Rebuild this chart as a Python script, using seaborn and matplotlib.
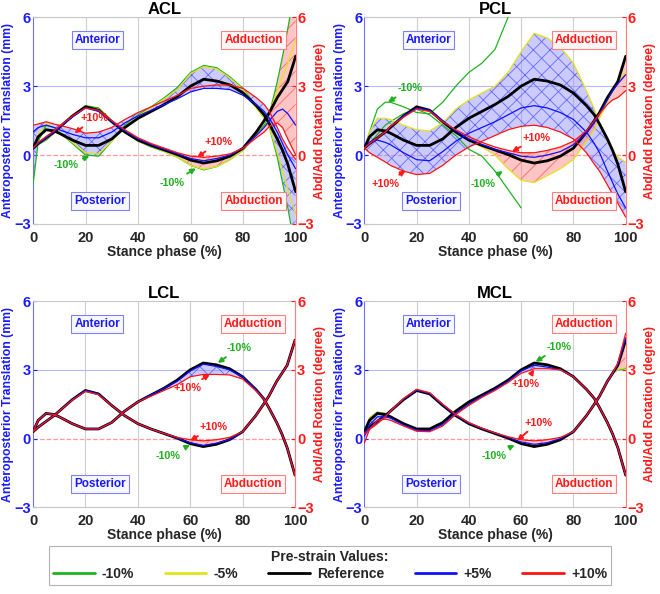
import numpy as np
import matplotlib
matplotlib.use("Agg")
import matplotlib.pyplot as plt
from matplotlib.lines import Line2D
import seaborn as sns

# stance phase samples (%)
stance = [0, 2, 5, 8, 10, 15, 20, 25, 30, 35, 40, 45, 50, 55, 60, 65, 70, 75, 80, 85, 88, 90, 93, 95, 97, 100]

# reference (0% pre-strain) curves
ref_trans = [0.3, 0.8, 1.1, 1.05, 0.95, 0.65, 0.42, 0.42, 0.7, 1.2, 1.6, 1.9, 2.2, 2.55, 3.0, 3.3, 3.22, 3.05, 2.7, 2.15, 1.75, 1.35, 0.7, 0.2, -0.4, -1.6]
ref_rot = [0.3, 0.5, 0.75, 1.0, 1.2, 1.7, 2.1, 1.95, 1.45, 1.0, 0.65, 0.42, 0.22, 0.02, -0.22, -0.35, -0.25, -0.05, 0.3, 1.0, 1.5, 1.85, 2.5, 2.85, 3.2, 4.3]

# ACL
acl_trans_m10 = [-1.3, 0.6, 1.3, 1.2, 1.0, 0.5, 0.0, -0.05, 0.6, 1.3, 1.75, 2.1, 2.5, 2.95, 3.6, 3.9, 3.8, 3.4, 2.9, 2.1, 1.6, 1.2, -0.1, -1.2, -2.3, -4.2]
acl_trans_m5 = [0.3, 0.9, 1.4, 1.2, 1.0, 0.55, 0.1, 0.05, 0.6, 1.25, 1.7, 2.05, 2.45, 2.85, 3.55, 3.85, 3.75, 3.35, 2.85, 2.05, 1.6, 1.2, 0.1, -0.7, -1.5, -2.6]
acl_trans_p5 = [1.0, 1.2, 1.3, 1.2, 1.1, 0.9, 0.75, 0.75, 1.0, 1.4, 1.7, 1.95, 2.2, 2.45, 2.75, 2.9, 2.9, 2.85, 2.6, 2.2, 1.9, 1.6, 1.0, 0.5, 0.0, -0.6]
acl_trans_p10 = [1.3, 1.35, 1.45, 1.35, 1.3, 1.15, 0.95, 1.0, 1.2, 1.55, 1.85, 2.1, 2.35, 2.6, 2.9, 3.0, 3.05, 3.05, 2.9, 2.5, 2.2, 1.9, 1.2, 0.7, 0.3, -0.2]
acl_rot_m10 = [0.3, 0.45, 0.65, 0.95, 1.15, 1.7, 2.15, 2.05, 1.5, 1.0, 0.6, 0.35, 0.15, -0.1, -0.45, -0.65, -0.5, -0.2, 0.2, 0.9, 1.3, 1.8, 3.2, 4.3, 5.5, 7.5]
acl_rot_m5 = [0.3, 0.45, 0.7, 0.95, 1.15, 1.7, 2.1, 2.0, 1.5, 1.0, 0.6, 0.38, 0.15, -0.1, -0.45, -0.62, -0.5, -0.2, 0.2, 0.95, 1.4, 1.85, 2.8, 3.4, 4.0, 5.0]
acl_rot_p5 = [0.3, 0.5, 0.75, 1.0, 1.2, 1.65, 2.05, 1.9, 1.45, 1.05, 0.7, 0.45, 0.25, 0.05, -0.15, -0.25, -0.15, 0.0, 0.3, 0.85, 1.2, 1.5, 1.9, 2.0, 1.8, 1.3]
acl_rot_p10 = [0.3, 0.55, 0.8, 1.05, 1.25, 1.7, 2.05, 1.95, 1.5, 1.1, 0.75, 0.5, 0.3, 0.1, -0.05, -0.1, -0.05, 0.05, 0.3, 0.75, 1.0, 1.25, 1.4, 1.2, 0.7, 0.0]

# PCL (-10% run stops at 60 %)
nan = np.nan
pcl_trans_m10 = [0.3, 1.0, 2.0, 2.3, 2.3, 2.1, 1.85, 1.8, 2.3, 3.0, 3.6, 4.0, 4.6, 6.0, 7.5, nan, nan, nan, nan, nan, nan, nan, nan, nan, nan, nan]
pcl_trans_m5 = [0.3, 1.0, 1.6, 1.6, 1.55, 1.3, 1.1, 1.05, 1.4, 2.0, 2.4, 2.7, 3.0, 3.6, 4.5, 5.3, 5.1, 4.7, 4.0, 2.8, 2.0, 1.4, 0.6, 0.2, -0.1, -0.3]
pcl_trans_p5 = [0.3, 0.55, 0.65, 0.55, 0.45, 0.1, -0.2, -0.25, 0.15, 0.6, 0.95, 1.2, 1.45, 1.75, 2.05, 2.15, 2.05, 1.85, 1.55, 1.0, 0.5, 0.1, -0.7, -1.2, -1.7, -2.3]
pcl_trans_p10 = [0.3, 0.1, -0.1, -0.3, -0.45, -0.7, -0.85, -0.8, -0.45, 0.0, 0.35, 0.6, 0.85, 1.1, 1.25, 1.3, 1.2, 1.0, 0.7, 0.1, -0.4, -0.7, -1.3, -1.7, -2.1, -2.7]
pcl_rot_m10 = [0.3, 0.5, 0.9, 1.3, 1.45, 1.8, 2.0, 1.75, 1.3, 0.85, 0.25, -0.05, -0.7, -1.5, -2.3, nan, nan, nan, nan, nan, nan, nan, nan, nan, nan, nan]
pcl_rot_m5 = [0.3, 0.5, 0.8, 1.05, 1.3, 1.7, 2.0, 1.9, 1.45, 1.0, 0.6, 0.35, 0.0, -0.6, -1.1, -1.2, -0.9, -0.6, -0.2, 0.6, 1.1, 1.6, 2.3, 2.8, 3.2, 3.6]
pcl_rot_p5 = [0.3, 0.5, 0.75, 1.0, 1.25, 1.7, 2.05, 1.95, 1.5, 1.05, 0.7, 0.45, 0.25, 0.1, -0.05, -0.1, 0.0, 0.15, 0.45, 0.95, 1.4, 1.8, 2.4, 2.8, 3.1, 3.5]
pcl_rot_p10 = [0.3, 0.5, 0.75, 1.0, 1.25, 1.65, 2.0, 1.9, 1.45, 1.1, 0.8, 0.55, 0.35, 0.2, 0.1, 0.1, 0.2, 0.35, 0.6, 1.05, 1.5, 1.8, 2.2, 2.4, 2.5, 2.8]

# LCL (-10% and -5% overlap the reference)
lcl_trans_m10 = ref_trans
lcl_trans_m5 = ref_trans
lcl_trans_p5 = [0.3, 0.8, 1.1, 1.05, 0.95, 0.65, 0.42, 0.42, 0.7, 1.2, 1.6, 1.9, 2.2, 2.5, 2.95, 3.25, 3.15, 3.0, 2.7, 2.15, 1.75, 1.35, 0.7, 0.2, -0.4, -1.6]
lcl_trans_p10 = [0.3, 0.8, 1.1, 1.05, 0.95, 0.65, 0.42, 0.42, 0.7, 1.2, 1.6, 1.85, 2.1, 2.35, 2.7, 2.8, 2.8, 2.78, 2.6, 2.1, 1.75, 1.35, 0.7, 0.2, -0.4, -1.6]
lcl_rot_m10 = ref_rot
lcl_rot_m5 = ref_rot
lcl_rot_p5 = [0.3, 0.5, 0.75, 1.0, 1.2, 1.7, 2.1, 1.95, 1.45, 1.0, 0.65, 0.42, 0.22, 0.02, -0.18, -0.3, -0.2, -0.05, 0.3, 1.0, 1.5, 1.85, 2.5, 2.85, 3.2, 4.3]
lcl_rot_p10 = [0.3, 0.5, 0.75, 1.0, 1.2, 1.68, 2.06, 1.92, 1.45, 1.0, 0.65, 0.42, 0.22, 0.05, -0.05, -0.1, -0.05, 0.05, 0.3, 1.0, 1.5, 1.85, 2.5, 2.85, 3.2, 4.3]

# MCL
mcl_trans_m10 = [0.3, 0.9, 1.15, 1.1, 0.98, 0.66, 0.43, 0.43, 0.71, 1.2, 1.6, 1.9, 2.2, 2.55, 3.0, 3.3, 3.22, 3.05, 2.7, 2.15, 1.75, 1.35, 0.7, 0.2, -0.4, -1.6]
mcl_trans_m5 = [0.3, 0.9, 1.15, 1.1, 0.98, 0.66, 0.43, 0.43, 0.71, 1.2, 1.6, 1.9, 2.2, 2.55, 3.0, 3.3, 3.22, 3.05, 2.7, 2.15, 1.75, 1.35, 0.7, 0.2, -0.4, -1.55]
mcl_trans_p5 = [0.1, 0.6, 0.95, 0.95, 0.9, 0.6, 0.37, 0.35, 0.62, 1.1, 1.5, 1.85, 2.15, 2.5, 2.95, 3.2, 3.12, 3.0, 2.7, 2.15, 1.75, 1.35, 0.7, 0.2, -0.4, -1.6]
mcl_trans_p10 = [-0.2, 0.4, 0.8, 0.85, 0.8, 0.55, 0.32, 0.3, 0.55, 1.05, 1.45, 1.8, 2.1, 2.45, 2.85, 3.05, 3.05, 3.0, 2.7, 2.15, 1.75, 1.35, 0.7, 0.2, -0.4, -1.6]
mcl_rot_m10 = [0.3, 0.5, 0.75, 1.0, 1.2, 1.7, 2.1, 1.95, 1.45, 1.0, 0.65, 0.42, 0.22, 0.02, -0.22, -0.35, -0.25, -0.05, 0.3, 1.0, 1.5, 1.85, 2.5, 2.85, 3.0, 3.05]
mcl_rot_m5 = [0.3, 0.5, 0.75, 1.0, 1.2, 1.7, 2.1, 1.95, 1.45, 1.0, 0.65, 0.42, 0.22, 0.02, -0.22, -0.35, -0.25, -0.05, 0.3, 1.0, 1.5, 1.85, 2.5, 2.85, 3.02, 3.1]
mcl_rot_p5 = [0.25, 0.45, 0.7, 1.0, 1.2, 1.72, 2.12, 1.97, 1.47, 1.02, 0.67, 0.44, 0.24, 0.05, -0.15, -0.25, -0.18, 0.0, 0.3, 1.0, 1.5, 1.85, 2.5, 2.85, 3.25, 4.4]
mcl_rot_p10 = [0.2, 0.4, 0.65, 0.95, 1.2, 1.75, 2.15, 2.0, 1.5, 1.05, 0.7, 0.45, 0.25, 0.08, -0.05, -0.1, -0.05, 0.05, 0.3, 1.0, 1.5, 1.85, 2.5, 2.85, 3.3, 4.6]

strain_labels = ["-10%", "-5%", "Reference", "+5%", "+10%"]
strain_colors = ["#1fb41f", "#e3e31c", "#000000", "#1010ff", "#ff1414"]
strain_widths = [0.9, 0.9, 2.0, 0.9, 0.9]

BLUE = "#1a1aff"
RED = "#ff1a1a"
GREEN = "#22b022"

sns.set_style("white")
plt.rcParams["font.family"] = ["Liberation Sans", "DejaVu Sans"]
plt.rcParams["font.weight"] = "bold"
plt.rcParams["axes.titleweight"] = "bold"
plt.rcParams["axes.labelweight"] = "bold"
plt.rcParams["hatch.linewidth"] = 0.6

fig = plt.figure(figsize=(6.6, 5.94), dpi=100)


def draw_panel(rect, title, trans, rot, band, notes):
    ax = fig.add_axes(rect)
    x = np.array(stance, dtype=float)
    T = np.array(trans, dtype=float)
    R = np.array(rot, dtype=float)

    ax.set_xlim(0, 100)
    ax.set_ylim(-3, 6)
    for gx in [20, 40, 60, 80]:
        ax.axvline(gx, color="#cfcfcf", lw=0.8, zorder=0)
    ax.axhline(3, color="#b8b8ff", lw=0.8, zorder=0)
    ax.axhline(0, color="#ff9a9a", lw=0.9, ls="--", zorder=0)

    # spread between the pre-strain cases
    ax.fill_between(x, np.nanmin(T[band], axis=0), np.nanmax(T[band], axis=0),
                    facecolor=(0.55, 0.55, 1.0, 0.45), edgecolor=(0.25, 0.25, 1.0, 0.7),
                    hatch="xx", lw=0, zorder=1)
    ax.fill_between(x, np.nanmin(R[band], axis=0), np.nanmax(R[band], axis=0),
                    facecolor=(1.0, 0.5, 0.5, 0.45), edgecolor=(1.0, 0.25, 0.25, 0.7),
                    hatch="//", lw=0, zorder=1)

    for i in range(5):
        z = 3 + i
        sns.lineplot(x=x, y=T[i], ax=ax, color=strain_colors[i], lw=strain_widths[i],
                     errorbar=None, zorder=z)
        sns.lineplot(x=x, y=R[i], ax=ax, color=strain_colors[i], lw=strain_widths[i],
                     errorbar=None, zorder=z)

    for txt, tpos, tip in notes:
        col = GREEN if txt.startswith("-") else RED
        ax.annotate(txt, xy=tip, xytext=tpos, color=col, fontsize=7.8, ha="center", va="center",
                    arrowprops=dict(arrowstyle="-|>", color=col, lw=1.4, mutation_scale=7,
                                    shrinkA=1, shrinkB=0), zorder=10)

    box_kw = dict(ha="center", va="center", fontsize=8.5, zorder=9)
    ax.text(24.5, 5.0, "Anterior", color=BLUE,
            bbox=dict(boxstyle="square,pad=0.25", fc="#f7f7ff", ec="#8080ff", lw=0.8), **box_kw)
    ax.text(25.5, -2.0, "Posterior", color=BLUE,
            bbox=dict(boxstyle="square,pad=0.25", fc="#f7f7ff", ec="#8080ff", lw=0.8), **box_kw)
    ax.text(84, 5.0, "Adduction", color=RED,
            bbox=dict(boxstyle="square,pad=0.25", fc="#fff7f7", ec="#ff8080", lw=0.8), **box_kw)
    ax.text(84, -2.0, "Abduction", color=RED,
            bbox=dict(boxstyle="square,pad=0.25", fc="#fff7f7", ec="#ff8080", lw=0.8), **box_kw)

    ax.set_xticks([0, 20, 40, 60, 80, 100])
    ax.set_yticks([-3, 0, 3, 6])
    ax.tick_params(axis="x", direction="in", length=3, labelsize=10.5, pad=5, colors="#262626")
    ax.tick_params(axis="y", direction="in", length=3, labelsize=10.5, pad=1.5, colors=BLUE)
    ax.set_xlabel("Stance phase (%)", fontsize=10, color="#262626", labelpad=0)
    ax.set_ylabel("Anteroposterior Translation (mm)", fontsize=8.8, color=BLUE, labelpad=0)
    ax.set_title(title, fontsize=12, pad=2, color="black")
    ax.spines["left"].set_color("#7070ff")
    ax.spines["right"].set_color("#ff8080")
    ax.spines["top"].set_color("#c8c8c8")
    ax.spines["bottom"].set_color("#c8c8c8")
    for s in ax.spines.values():
        s.set_linewidth(0.8)

    ax2 = ax.twinx()
    ax2.set_ylim(-3, 6)
    ax2.set_yticks([-3, 0, 3, 6])
    ax2.tick_params(axis="y", direction="in", length=3, labelsize=10.5, pad=1.5, colors=RED)
    ax2.set_ylabel("Abd/Add Rotation (degree)", fontsize=8.8, color=RED, labelpad=0)
    for side in ["left", "top", "bottom"]:
        ax2.spines[side].set_visible(False)
    ax2.spines["right"].set_color("#ff8080")
    ax2.spines["right"].set_linewidth(0.8)
    return ax


panels = [
    ([0.050, 0.623, 0.398, 0.348], "ACL",
     [acl_trans_m10, acl_trans_m5, ref_trans, acl_trans_p5, acl_trans_p10],
     [acl_rot_m10, acl_rot_m5, ref_rot, acl_rot_p5, acl_rot_p10], [0, 1, 2, 3, 4],
     [("+10%", (23.5, 1.6), (15.8, 0.95)), ("-10%", (12.5, -0.45), (21.5, -0.05)),
      ("+10%", (70.5, 0.55), (62.5, -0.1)), ("-10%", (53, -1.2), (62, -0.58))]),
    ([0.552, 0.623, 0.396, 0.348], "PCL",
     [pcl_trans_m10, pcl_trans_m5, ref_trans, pcl_trans_p5, pcl_trans_p10],
     [pcl_rot_m10, pcl_rot_m5, ref_rot, pcl_rot_p5, pcl_rot_p10], [1, 2, 3, 4],
     [("-10%", (17.5, 2.9), (9, 2.3)), ("+10%", (8, -1.25), (15.8, -0.68)),
      ("+10%", (66, 0.75), (56.5, 0.15)), ("-10%", (45.5, -1.25), (53, -0.7))]),
    ([0.050, 0.146, 0.397, 0.347], "LCL",
     [lcl_trans_m10, lcl_trans_m5, ref_trans, lcl_trans_p5, lcl_trans_p10],
     [lcl_rot_m10, lcl_rot_m5, ref_rot, lcl_rot_p5, lcl_rot_p10], [0, 1, 2, 3, 4],
     [("-10%", (78.5, 3.95), (70.5, 3.3)), ("+10%", (59, 2.2), (67.5, 2.8)),
      ("+10%", (69, 0.5), (60, -0.08)), ("-10%", (51.5, -0.75), (60, -0.28))]),
    ([0.552, 0.146, 0.396, 0.347], "MCL",
     [mcl_trans_m10, mcl_trans_m5, ref_trans, mcl_trans_p5, mcl_trans_p10],
     [mcl_rot_m10, mcl_rot_m5, ref_rot, mcl_rot_p5, mcl_rot_p10], [0, 1, 2, 3, 4],
     [("-10%", (74.5, 4.0), (65.5, 3.35)), ("+10%", (61.5, 2.4), (65, 3.02)),
      ("+10%", (66.5, 0.7), (58.5, -0.08)), ("-10%", (49.5, -0.75), (57.5, -0.28))]),
]

for rect, title, tr, ro, band, notes in panels:
    draw_panel(rect, title, tr, ro, band, notes)

handles = [Line2D([], [], color=c, lw=2) for c in strain_colors]
leg = fig.legend(handles, strain_labels, loc="lower center", bbox_to_anchor=(0.5, 0.003),
                 ncol=5, fontsize=10, title="Pre-strain Values:", frameon=True,
                 fancybox=False, edgecolor="#a0a0a0", handlelength=3.0, columnspacing=2.2,
                 handletextpad=0.5, borderpad=0.3, labelspacing=0.2)
leg.get_title().set_fontweight("bold")
leg.get_title().set_fontsize(10)
leg.get_frame().set_linewidth(0.8)

fig.savefig("out.png", dpi=100)
